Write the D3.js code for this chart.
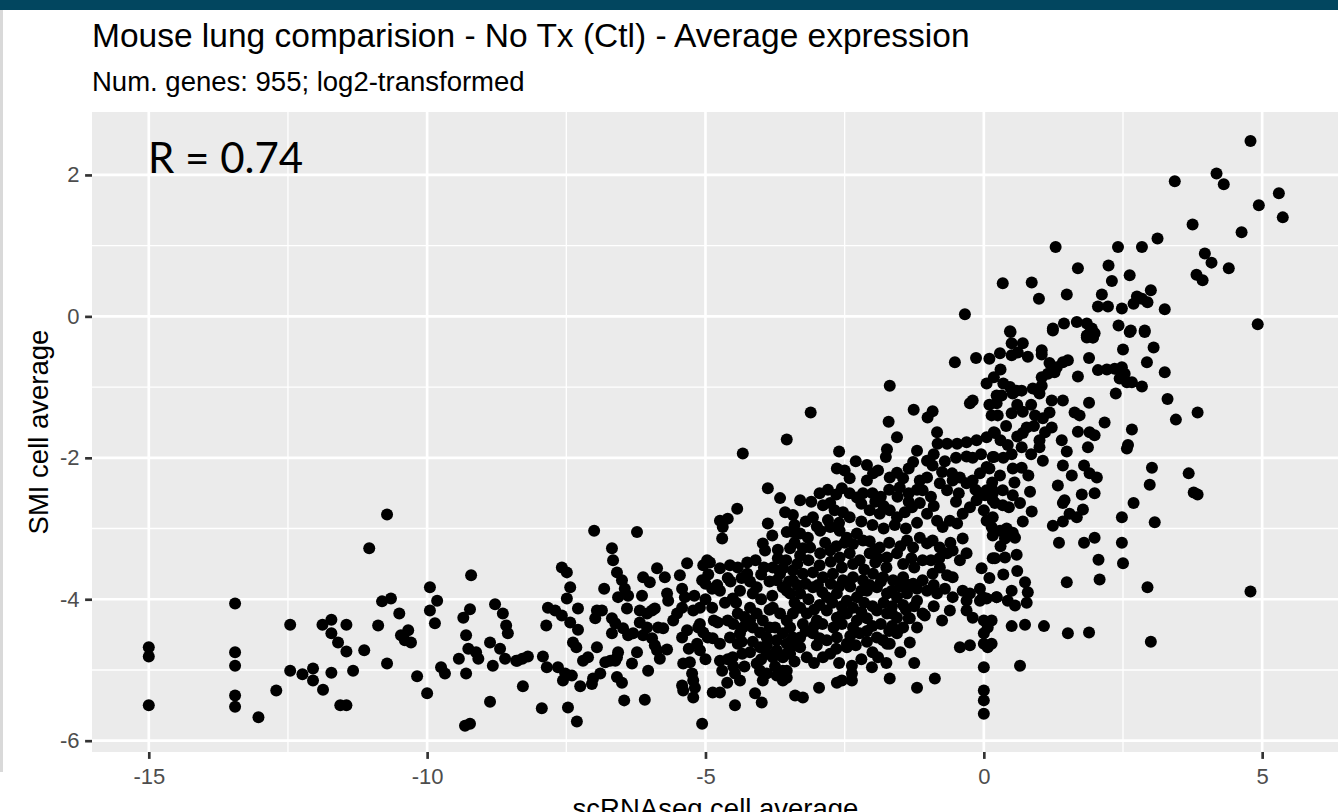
<!DOCTYPE html>
<html><head><meta charset="utf-8">
<script src="https://cdn.jsdelivr.net/npm/d3@7"></script>
<style>html,body{margin:0;padding:0;background:#fff;overflow:hidden}</style>
</head><body><svg id="chart" width="1338" height="812"></svg>
<script>
const title = "Mouse lung comparision - No Tx (Ctl) - Average expression";
const subtitle = "Num. genes: 955; log2-transformed";
const xLabel = "scRNAseq cell average";
const yLabel = "SMI cell average";
const corrLabel = "R = 0.74";
const xTicks = [-15, -10, -5, 0, 5];
const yTicks = [-6, -4, -2, 0, 2];
const xMinor = [-12.5, -7.5, -2.5, 2.5];
const yMinor = [-5, -3, -1, 1];
const xDomain = [-16.02, 6.38];
const yDomain = [-6.16, 2.89];

// [scRNAseq average, SMI average]
const lowGenes = [
[-15.0,-4.68],[-15.0,-4.81],[-15.0,-5.50],
[-13.45,-4.06],[-13.45,-4.75],[-13.45,-4.94],[-13.45,-5.36],[-13.45,-5.52],
[-13.03,-5.67],[-12.71,-5.29],[-12.46,-4.36],[-12.46,-5.01],[-12.24,-5.06],[-12.05,-4.98],[-12.05,-5.15],[-11.87,-5.28],[-11.88,-4.36],[-11.72,-4.29],[-11.72,-4.48],[-11.6,-4.61],[-11.45,-4.74],[-11.45,-4.36],[-11.72,-5.04],[-11.33,-5.01],[-11.56,-5.5],[-11.45,-5.5],[-11.13,-4.72],[-11.04,-3.28],[-10.72,-2.8],[-10.81,-4.03],[-10.65,-3.99],[-10.88,-4.37],[-10.5,-4.2],[-10.72,-4.91],[-10.47,-4.51],[-10.34,-4.44],[-10.29,-4.61],[-10.4,-4.58],[-10.18,-5.09],[-10.0,-5.33],[-9.95,-3.83],[-9.82,-4.02],[-9.95,-4.16],[-9.86,-4.34],[-9.75,-4.96],[-9.68,-5.05],[-9.43,-4.84],[-9.32,-5.79],[-9.23,-5.76],[-9.21,-3.66],[-9.35,-4.26],[-9.23,-4.14],[-9.3,-4.51],[-9.26,-4.7],[-9.12,-4.75],[-9.08,-4.84],[-9.3,-5.05],[-8.87,-5.45],[-8.87,-4.61],[-8.78,-4.07],[-8.64,-4.2],[-8.58,-4.37],[-8.55,-4.48],[-8.69,-4.7],[-8.6,-4.84],[-8.82,-4.94],[-8.4,-4.87]
];

const midGenes = [
[-8.38,-4.87],[-8.29,-4.84],[-8.19,-4.81],[-8.28,-5.23],[-7.94,-5.54],[-7.92,-4.81],[-7.85,-4.96],[-7.86,-4.37],[-7.83,-4.12],[-7.7,-4.16],[-7.58,-4.23],[-7.58,-3.55],[-7.49,-3.62],[-7.43,-3.83],[-7.49,-3.99],[-7.65,-4.96],[-7.52,-5.05],[-7.4,-5.08],[-7.56,-5.15],[-7.47,-5.53],[-7.31,-5.73],[-7.29,-4.13],[-7.43,-4.33],[-7.29,-4.43],[-7.38,-4.61],[-7.32,-4.68],[-7.25,-5.23],[-7.2,-4.87],[-7.11,-4.82],[-7.0,-3.03],[-6.95,-4.16],[-6.86,-4.16],[-6.98,-4.27],[-6.82,-3.85],[-6.95,-4.68],[-7.02,-5.12],[-7.04,-5.2],[-6.89,-5.05],[-6.8,-4.89],[-6.71,-4.87],[-6.62,-4.87],[-6.68,-3.28],[-6.66,-3.45],[-6.59,-3.62],[-6.5,-3.73],[-6.45,-3.85],[-6.57,-3.97],[-6.39,-3.95],[-6.41,-4.13],[-6.68,-4.27],[-6.62,-4.34],[-6.68,-4.48],[-6.57,-4.75],[-6.59,-4.82],[-6.59,-5.1],[-6.5,-5.18],[-6.46,-5.43],[-6.09,-5.42],[-6.48,-4.41],[-6.39,-4.51],[-6.3,-4.48],[-6.32,-4.91],[-6.23,-4.75],[-6.23,-3.05],[-6.12,-3.69],[-6.0,-3.76],[-6.14,-3.95],[-6.18,-4.16],[-6.05,-4.2],[-5.96,-4.16],[-6.18,-4.33],[-6.05,-4.4],[-6.12,-4.51],[-6.03,-5.01],[-5.96,-4.55],[-5.91,-4.65],[-5.87,-3.56],[-5.73,-3.69],[-5.91,-4.13],[-5.85,-4.4],[-5.76,-4.41],[-5.82,-4.84],[-5.87,-4.72],[-5.69,-3.92],[-5.67,-4.02],[-5.69,-4.71],[-5.58,-4.3],[-5.51,-4.2],[-5.42,-4.12],[-5.46,-3.66],[-5.42,-3.85],[-5.37,-3.97],[-5.33,-3.49],[-5.42,-4.54],[-5.33,-4.44],[-5.4,-4.91],[-5.28,-4.89],[-5.42,-5.22],[-5.4,-5.29],[-5.24,-5.05],[-5.22,-5.15],[-5.19,-5.25],[-5.22,-5.39],[-5.22,-4.16],[-5.1,-4.12],[-5.15,-4.63],[-5.1,-4.72],[-5.06,-5.76],[-5.04,-3.52],[-4.97,-3.45],[-4.92,-3.48],[-5.06,-3.73],[-5.0,-3.78],[-5.13,-4.4],[-5.04,-4.47],[-4.96,-4.54],[-4.88,-3.85],[-4.79,-3.8],[-4.74,-3.88],[-4.74,-2.89],[-4.69,-2.98],[-4.7,-3.14],[-4.6,-2.86],[-4.43,-2.72],[-4.74,-3.56],[-4.88,-4.12],[-4.78,-4.33],[-4.87,-4.55],[-4.74,-4.63],[-4.74,-4.87],[-4.7,-5.01],[-4.87,-5.32],[-4.74,-5.32],[-4.61,-5.18],[-4.47,-5.5],[-4.56,-3.52],[-4.42,-3.55],[-4.25,-3.48],[-4.51,-3.99],[-4.38,-3.88],[-4.42,-4.2],[-4.33,-4.4],[-4.38,-4.48],[-4.56,-4.54],[-4.42,-4.63],[-4.47,-5.05],[-4.38,-5.15],[-4.51,-4.82],[-4.34,-4.77],[-4.25,-3.64],[-4.08,-3.83],[-4.15,-3.92],[-3.97,-3.21],[-3.93,-3.31],[-3.88,-2.93],[-3.88,-2.43],[-4.33,-1.94],[-3.54,-1.74],[-3.66,-2.57],[-3.57,-2.77],[-3.43,-2.81],[-3.54,-3.05],[-3.43,-3.05],[-3.48,-3.28],[-3.7,-3.42],[-4.2,-4.12],[-4.08,-4.2],[-3.97,-4.3],[-4.15,-4.4],[-4.02,-4.47],[-3.9,-4.54],[-4.02,-4.68],[-3.9,-4.77],[-3.79,-4.82],[-4.08,-4.91],[-4.02,-5.01],[-3.9,-5.05],[-3.97,-5.15],[-4.11,-5.33],[-3.99,-5.46],[-3.72,-5.08],[-3.61,-5.01],[-3.54,-5.11],[-3.39,-5.36],[-3.79,-3.55],[-3.66,-3.64],[-3.72,-3.73],[-3.61,-3.83],[-3.48,-3.92],[-3.43,-3.73],
[-3.79,-4.12],[-3.66,-4.2],[-3.54,-4.3],[-3.43,-4.2],[-3.48,-4.4],[-3.61,-4.48],[-3.72,-4.58],[-3.54,-4.63],[-3.43,-4.54],[-3.72,-4.72],[-3.61,-4.82],[-3.48,-4.77],
[-4.6,-3.7],[-4.45,-4.05],[-4.3,-4.25],[-4.15,-4.6],[-4.3,-4.95],[-4.6,-4.3],[-4.65,-4.05],[-4.2,-3.75],[-4.0,-4.0],[-3.85,-3.75],[-3.85,-4.15],[-3.85,-4.4],[-3.75,-4.95],[-4.2,-4.75],[-3.95,-3.55]
];

const midFill = [
[-5.2,-3.95],[-5.0,-4.0],[-4.85,-4.3],[-4.95,-3.65],[-4.55,-3.75],[-4.35,-3.7],[-4.0,-3.65],[-3.8,-3.95],[-4.5,-4.35],[-4.2,-4.3],[-3.9,-4.65],[-4.6,-4.85],[-4.35,-4.6],[-3.75,-4.4],[-4.0,-4.85],[-3.7,-3.3],[-3.8,-3.1],[-4.1,-3.45],[-4.5,-4.95],[-5.1,-4.35],[-5.3,-4.7],[-5.0,-4.85]
];

const coreGenes = [
[-1.69,-0.98],[-3.11,-1.36],[-1.26,-1.32],[-1.01,-1.43],[-0.92,-1.34],[-1.71,-1.49],[-1.56,-1.71],[-1.74,-1.88],[-1.76,-1.99],[-2.6,-1.91],[-1.27,-2.06],[-1.02,-2.04],[-0.92,-2.11],[-0.84,-1.64],[-0.83,-1.8],[-0.66,-1.8],[-0.48,-1.8],[-0.31,-1.78],[-0.13,-1.75],[0.05,-1.71],[0.2,-1.65],[-0.25,-1.23],[-0.2,-1.19],[0.14,-1.4],[0.23,-1.12],[-0.31,-1.98],[0.05,-2.13],[0.16,-1.99],
[-2.64,-2.15],[-2.5,-2.18],[-2.41,-2.29],[-2.1,-2.32],[-1.99,-2.22],[-1.9,-2.18],[-1.69,-2.28],[-1.56,-2.21],[-1.45,-2.29],[-1.51,-2.42],[-1.15,-2.32],[-1.02,-2.28],[-1.1,-2.46],
[-0.79,-2.36],[-0.66,-2.46],[-0.57,-2.22],[-0.56,-2.32],[-0.43,-2.28],[-0.31,-2.36],[-0.2,-2.32],[-0.07,-2.22],
[-2.55,-2.43],[-2.41,-2.5],[-2.28,-2.56],[-2.17,-2.5],
[-3.07,-2.84],[-2.89,-2.67],[-2.76,-2.64],[-2.68,-2.74],[-2.53,-2.77],[-2.41,-2.84],
[-2.05,-2.74],[-1.87,-2.79],[-1.69,-2.74],[-1.56,-2.84],[-1.42,-2.77],[-1.29,-2.7],[-1.15,-2.64],
[-1.02,-2.79],[-0.84,-2.89],[-0.74,-2.98],[-0.61,-2.89],[-0.48,-2.93],[-0.38,-2.79],[-0.25,-2.7],[-0.13,-2.6],[0.02,-2.53],[0.16,-2.46],
[-3.3,-3.07],[-3.16,-3.13],[-2.94,-3.03],[-2.76,-2.98],[-2.59,-3.03],[-2.46,-3.13],[-2.28,-3.07],[-2.17,-3.17],
[-3.12,-3.27],[-2.94,-3.35],[-2.76,-3.31],[-2.59,-3.41],[-2.41,-3.35],[-2.23,-3.45],[-2.05,-3.35],[-1.87,-3.27],[-1.74,-3.41],[-1.56,-3.35],
[-1.38,-3.17],[-1.27,-3.27],[-1.15,-3.13],[-1.02,-3.21],[-0.92,-3.17],[-0.79,-3.27],[-0.66,-3.35],[-0.56,-3.31],[-0.43,-3.45],[-0.31,-3.35],
[-1.1,-3.45],[-0.04,-3.56],[-0.38,-3.14],[0.16,-3.42],[0.23,-3.97],
[-3.61,-3.56],[-3.43,-3.59],[-3.25,-3.64],[-3.07,-3.62],[-2.89,-3.69],[-2.71,-3.64],[-2.53,-3.73],[-2.35,-3.69],[-2.17,-3.73],[-1.99,-3.64],[-1.81,-3.69],[-1.63,-3.73],[-1.45,-3.69],[-1.27,-3.78],[-1.1,-3.73],[-0.92,-3.64],[-0.79,-3.55],[-0.66,-3.66],[-0.56,-3.69],
[-3.54,-3.88],[-3.3,-3.92],[-3.07,-3.83],[-2.82,-3.97],[-2.64,-3.92],[-2.46,-4.02],[-2.28,-3.97],[-2.1,-3.88],[-1.92,-3.83],[-1.74,-3.92],[-1.56,-3.97],[-1.38,-3.92],[-1.2,-4.02],[-1.02,-3.88],[-0.84,-3.92],
[-0.56,-3.97],[-0.38,-3.88],[-0.25,-3.92],[-0.07,-3.85],[-0.02,-3.97],
[-0.61,-4.16],[-0.31,-4.16],[-0.2,-4.26],
[-3.18,-4.2],[-3.0,-4.3],[-2.82,-4.16],[-2.64,-4.26],[-2.46,-4.2],[-2.28,-4.3],[-2.1,-4.27],[-1.92,-4.16],[-1.74,-4.2],[-1.56,-4.26],[-1.33,-4.27],[-1.1,-4.2],
[-3.3,-4.54],[-3.07,-4.48],[-2.82,-4.58],[-2.64,-4.54],[-2.46,-4.63],[-2.23,-4.48],[-1.92,-4.54],[-1.74,-4.63],[-1.56,-4.48],[-1.33,-4.61],
[-3.54,-4.77],[-3.3,-4.68],[-3.18,-4.82],[-2.89,-4.82],[-2.76,-4.77],[-2.46,-4.68],
[-3.54,-5.01],[-3.61,-5.15],[-3.25,-5.39],[-2.96,-5.25],[-2.64,-5.18],[-2.55,-5.15],[-2.37,-4.94],[-2.37,-5.05],[-2.37,-5.15],[-2.01,-4.96],[-1.9,-4.82],[-1.81,-4.58],[-1.69,-4.63],[-1.56,-4.44],
[-1.69,-5.12],[-1.2,-5.25],[-0.88,-5.12],[-1.35,-4.27],[-1.06,-4.23],[-0.43,-4.68],[-0.25,-4.65],[-0.31,-4.02],[-0.07,-4.02],[0.05,-3.99],
[0.0,-4.3],[0.07,-4.4],[0.0,-4.48],[0.0,-4.63],[0.07,-4.68],[0.0,-4.96],[0.0,-5.29],[0.0,-5.43],[0.0,-5.62],
[0.0,-2.74],[0.05,-2.89],[0.16,-2.84],[-0.07,-2.5],[0.05,-2.46],[0.16,-2.6],
[-3.4,-2.95],[-3.2,-2.9],[-3.0,-2.97],[-2.8,-2.88],[-2.6,-2.92],[-2.2,-2.9],[-2.0,-2.95],[-1.8,-3.0],[-1.6,-2.95],[-1.4,-3.0],[-1.2,-2.92],
[-3.55,-3.45],[-3.35,-3.5],[-3.15,-3.45],[-2.95,-3.52],[-2.75,-3.47],[-2.55,-3.55],[-2.35,-3.5],[-2.15,-3.58],[-1.95,-3.48],[-1.75,-3.55],[-1.45,-3.5],[-1.25,-3.55],[-0.95,-3.45],
[-3.5,-3.75],[-3.2,-3.78],[-2.98,-3.8],[-2.75,-3.78],[-2.4,-3.82],[-2.05,-3.8],[-1.85,-3.75],[-1.5,-3.82],[-1.2,-3.85],[-0.9,-3.8],
[-3.4,-4.05],[-3.15,-4.0],[-2.95,-4.08],[-2.72,-4.05],[-2.55,-4.1],[-2.35,-4.12],[-2.15,-4.05],[-2.0,-4.1],[-1.8,-4.05],[-1.65,-4.1],[-1.45,-4.08],[-1.25,-4.1],
[-3.25,-4.35],[-3.05,-4.38],[-2.9,-4.35],[-2.7,-4.4],[-2.55,-4.35],[-2.35,-4.4],[-2.0,-4.38],[-1.85,-4.35],[-1.65,-4.38],[-1.45,-4.4],
[-3.4,-4.65],[-3.0,-4.65],[-2.65,-4.7],[-2.3,-4.65],[-2.1,-4.6],[-2.0,-4.75],[-1.5,-4.75],
[-2.95,-2.5],[-2.8,-2.45],[-2.65,-2.52],[-2.0,-2.5],[-1.85,-2.55],[-1.7,-2.45],[-1.55,-2.55],[-1.35,-2.5],[-1.2,-2.45],[-0.95,-2.55]
];

const coreFill = [
[-3.3,-2.6],[-3.1,-2.62],[-2.2,-2.65],[-1.95,-2.62],[-1.8,-2.68],[-1.35,-2.62],[-0.9,-2.68],[-0.5,-2.62],
[-3.4,-3.2],[-3.25,-3.28],[-2.85,-3.2],[-2.65,-3.25],[-2.35,-3.22],[-2.05,-3.18],[-1.95,-3.3],[-1.7,-3.2],[-1.5,-3.25],[-0.6,-3.2],
[-3.3,-3.38],[-2.5,-3.2],[-1.9,-3.42],[-1.3,-3.42],[-0.8,-3.42],
[-3.35,-3.8],[-2.9,-3.9],[-2.6,-3.82],[-2.2,-3.88],[-1.65,-3.88],[-1.35,-3.8],[-0.7,-3.85],
[-3.3,-4.12],[-3.05,-4.15],[-2.55,-4.22],[-2.2,-4.18],[-1.65,-4.2],[-1.4,-4.15],[-0.9,-4.1],[-0.75,-4.3],
[-3.2,-4.45],[-2.95,-4.55],[-2.4,-4.52],[-2.1,-4.45],[-1.7,-4.45],[-1.2,-4.4],
[-3.4,-4.88],[-3.05,-4.9],[-2.6,-4.9],[-2.2,-4.85],[-1.75,-4.9],[-1.25,-4.9],
[-0.9,-1.95],[-0.7,-2.05],[-0.5,-2.0],[-0.2,-2.0],[-0.05,-1.95],[-0.75,-2.2],[-0.45,-2.5],[-0.15,-2.45],
[-2.3,-2.05],[-2.1,-2.1],[-1.35,-2.15],[-1.2,-1.9]
];

const highGenes = [
[0.48,-0.22],[1.24,-0.2],[1.85,-0.27],[1.9,-0.24],[1.96,-0.3],[2.62,-0.22],[2.89,-0.22],[4.92,-0.11],
[0.5,-0.38],[0.7,-0.38],[0.29,-0.52],[0.5,-0.55],[0.61,-0.51],[0.79,-0.57],[1.04,-0.54],[1.89,-0.59],[2.5,-0.47],[3.05,-0.44],[2.93,-0.65],[3.25,-0.79],
[1.18,-0.66],[1.31,-0.72],[1.42,-0.65],[1.51,-0.62],[1.15,-0.81],[1.27,-0.79],[0.18,-0.86],[1.04,-0.86],[1.69,-0.85],
[2.05,-0.76],[2.21,-0.75],[2.35,-0.74],[2.48,-0.72],[2.53,-0.81],[2.44,-0.88],[2.57,-0.93],[2.66,-0.93],[2.84,-0.99],[2.37,-1.09],
[0.47,-1.0],[0.59,-1.05],[0.68,-1.05],[0.52,-1.09],[0.88,-1.02],[0.97,-1.05],[1.04,-0.98],[1.0,-1.09],
[0.32,-1.12],[0.23,-1.23],[1.22,-1.19],[1.42,-1.19],[1.89,-1.22],[3.3,-1.17],[3.45,-1.46],[3.84,-1.36],
[0.5,-1.37],[0.92,-1.4],[1.06,-1.44],[1.18,-1.36],[1.63,-1.36],[1.72,-1.4],
[2.17,-1.5],[0.77,-1.57],[1.22,-1.57],[1.1,-1.64],[1.0,-1.75],[1.0,-1.85],[0.18,-1.64],[1.69,-1.63],[1.9,-1.64],[1.99,-1.68],[2.66,-1.6],
[0.43,-1.82],[0.68,-1.85],[1.4,-1.75],[1.49,-1.91],[1.87,-1.85],[2.57,-1.87],[2.59,-1.82],[0.18,-1.99],[1.06,-2.04],
[1.42,-2.11],[1.58,-2.25],[1.8,-2.11],[1.9,-2.22],[2.03,-2.28],[3.02,-2.14],[2.98,-2.38],[3.68,-2.22],[3.77,-2.49],[3.84,-2.52],
[0.29,-2.25],[0.52,-2.15],[0.68,-2.14],
[1.33,-2.39],[1.45,-2.6],[1.42,-2.64],[1.76,-2.52],[1.99,-2.5],
[0.16,-2.5],[0.34,-2.46],[0.52,-2.53],[0.83,-2.48],[0.65,-2.64],[0.86,-2.76],[0.2,-2.64],[0.34,-2.67],
[2.69,-2.64],[1.54,-2.79],[1.67,-2.84],[1.78,-2.73],[1.42,-2.9],[1.24,-2.96],[2.48,-2.84],[3.07,-2.91],
[0.14,-2.98],[0.29,-3.03],[0.41,-3.0],[0.52,-3.06],[0.38,-3.14],[0.56,-3.13],[0.16,-3.1],
[1.35,-3.2],[1.8,-3.2],[1.99,-3.13],[2.48,-3.2],[0.2,-3.42],[0.38,-3.41],[0.59,-3.37],[2.06,-3.44],[2.5,-3.49],[1.49,-3.76],[2.08,-3.72],[2.94,-3.83],[4.79,-3.89],
[0.74,-3.76],[0.5,-3.88],[0.79,-3.9],[0.23,-3.97],[0.43,-4.02],[0.56,-4.09],[0.77,-4.05],
[0.14,-4.3],[0.5,-4.38],[0.74,-4.36],[1.08,-4.38],[1.51,-4.48],[1.89,-4.47],[3.0,-4.6],[0.14,-4.63],[0.65,-4.94],
[0.1,-0.6],[0.3,-0.75],[0.35,-0.95],[0.6,-1.25],[0.85,-1.25],[0.4,-1.55],[0.6,-1.7],[0.85,-1.95],[0.35,-2.0],[0.55,-2.35],[0.8,-2.25],[0.1,-2.15],[0.1,-1.25],
[0.05,-0.95],[0.25,-1.4],[0.7,-1.35],[0.3,-1.75],[0.5,-1.95],[0.7,-1.65],[0.9,-1.55],[0.15,-2.35],[0.45,-2.7],[0.7,-2.9],[0.3,-3.25],[0.1,-3.7],[0.35,-3.65],[0.6,-3.6]
];

const topGenes = [
[4.79,2.48],[3.43,1.91],[4.18,2.02],[4.31,1.87],[5.3,1.74],[4.94,1.57],[5.37,1.4],[3.75,1.3],[4.63,1.19],[3.12,1.1],[1.29,0.98],[2.41,0.98],[2.84,0.98],[3.97,0.89],[4.09,0.76],[4.4,0.68],[3.82,0.59],[3.93,0.51],[1.69,0.68],[2.24,0.72],[2.3,0.5],[2.62,0.58],[0.34,0.47],[0.86,0.48],[0.99,0.25],[1.49,0.31],[2.12,0.31],[2.05,0.14],[2.23,0.14],[2.75,0.28],[2.84,0.25],[2.94,0.2],[2.69,0.18],[3.0,0.37],[2.48,0.11],[3.25,0.1],[0.47,-0.21],[1.24,-0.17],[1.44,-0.1],[1.67,-0.08],[1.85,-0.1],[1.94,-0.17],[1.99,-0.24],[1.85,-0.3],[1.96,-0.3],[2.42,-0.13],[2.64,-0.2],[2.89,-0.2],[1.04,-0.48],
[-0.34,0.03],[-0.52,-0.65],[-0.14,-0.59]
];

const genes = lowGenes.concat(midGenes, midFill, coreGenes, coreFill, highGenes, topGenes);

const W = 1338, H = 812;
const panel = {left: 92, right: 1339, top: 112, bottom: 752};
const svg = d3.select("#chart");

const x = d3.scaleLinear().domain(xDomain).range([panel.left, panel.right]);
const y = d3.scaleLinear().domain(yDomain).range([panel.bottom, panel.top]);

// page frame
svg.append("rect").attr("x", 0).attr("y", 0).attr("width", W).attr("height", H).attr("fill", "#ffffff");
svg.append("rect").attr("x", 0).attr("y", 0).attr("width", W).attr("height", 10).attr("fill", "#02465f");
svg.append("rect").attr("x", 0).attr("y", 10).attr("width", 3).attr("height", 762).attr("fill", "#d9d9d9");

// panel
svg.append("rect").attr("x", panel.left).attr("y", panel.top)
  .attr("width", panel.right - panel.left).attr("height", panel.bottom - panel.top).attr("fill", "#ebebeb");

const grid = svg.append("g");
grid.selectAll(".xmin").data(xMinor).join("line")
  .attr("x1", d => x(d)).attr("x2", d => x(d)).attr("y1", panel.top).attr("y2", panel.bottom)
  .attr("stroke", "#fff").attr("stroke-width", 1.33);
grid.selectAll(".ymin").data(yMinor).join("line")
  .attr("y1", d => y(d)).attr("y2", d => y(d)).attr("x1", panel.left).attr("x2", panel.right)
  .attr("stroke", "#fff").attr("stroke-width", 1.33);
grid.selectAll(".xmaj").data(xTicks).join("line")
  .attr("x1", d => x(d)).attr("x2", d => x(d)).attr("y1", panel.top).attr("y2", panel.bottom)
  .attr("stroke", "#fff").attr("stroke-width", 2.67);
grid.selectAll(".ymaj").data(yTicks).join("line")
  .attr("y1", d => y(d)).attr("y2", d => y(d)).attr("x1", panel.left).attr("x2", panel.right)
  .attr("stroke", "#fff").attr("stroke-width", 2.67);

// points
svg.append("g").selectAll("circle").data(genes).join("circle")
  .attr("cx", d => x(d[0])).attr("cy", d => y(d[1])).attr("r", 6).attr("fill", "#000");

// axes
const fontFam = "'Liberation Sans', Arial, Helvetica, sans-serif";
const xAxis = svg.append("g").attr("transform", `translate(0,${panel.bottom})`)
  .call(d3.axisBottom(x).tickValues(xTicks).tickSize(6.9).tickPadding(9));
const yAxis = svg.append("g").attr("transform", `translate(${panel.left},0)`)
  .call(d3.axisLeft(y).tickValues(yTicks).tickSize(6.9).tickPadding(5.5));
[xAxis, yAxis].forEach(a => {
  a.select(".domain").remove();
  a.selectAll(".tick line").attr("stroke", "#333333").attr("stroke-width", 2.67);
  a.selectAll(".tick text").attr("fill", "#4d4d4d").style("font-family", fontFam).style("font-size", "22px")
    .text(d => d < 0 ? "-" + Math.abs(d) : String(d));
});

// titles
svg.append("text").attr("x", 92).attr("y", 47).text(title)
  .style("font-family", fontFam).style("font-size", "33.5px").attr("fill", "#000");
svg.append("text").attr("x", 92).attr("y", 91).text(subtitle)
  .style("font-family", fontFam).style("font-size", "27.5px").attr("fill", "#000");
svg.append("text").attr("x", (panel.left + panel.right) / 2).attr("y", 818).attr("text-anchor", "middle").text(xLabel)
  .style("font-family", fontFam).style("font-size", "27.5px").attr("fill", "#000");
svg.append("text").attr("transform", `translate(48,${(panel.top + panel.bottom) / 2}) rotate(-90)`)
  .attr("text-anchor", "middle").text(yLabel)
  .style("font-family", fontFam).style("font-size", "27.5px").attr("fill", "#000");

// correlation annotation
svg.append("text").attr("x", 148).attr("y", 173).text(corrLabel)
  .style("font-family", "Lato, 'Open Sans', sans-serif").style("font-size", "42px").attr("fill", "#000");
</script>
</body></html>
